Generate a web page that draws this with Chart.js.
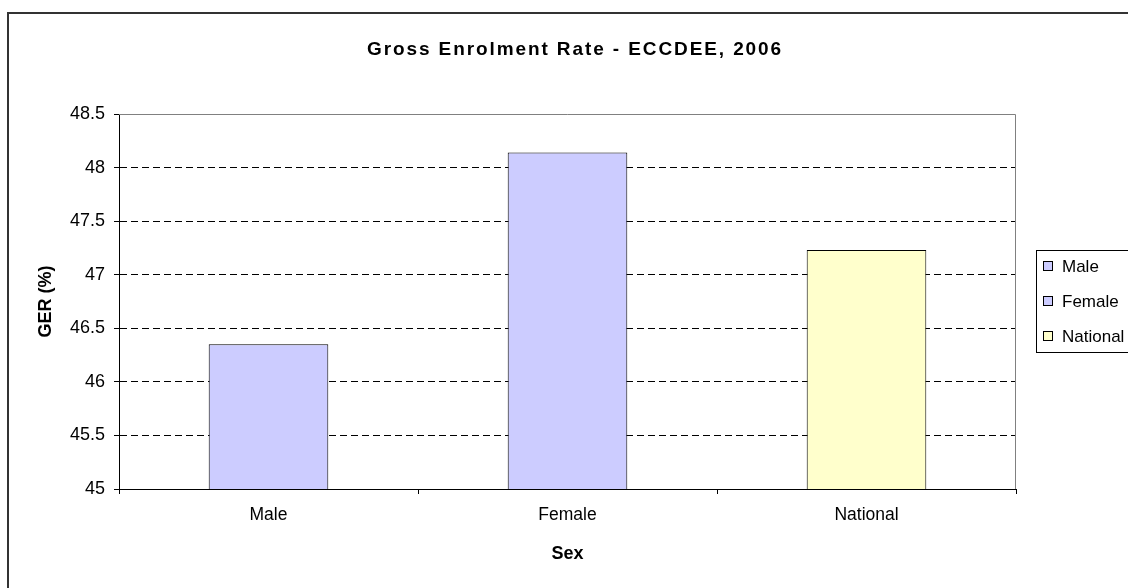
<!DOCTYPE html>
<html>
<head>
<meta charset="utf-8">
<script src="https://cdn.jsdelivr.net/npm/chart.js@4/dist/chart.umd.min.js"></script>
<style>
  html, body { margin: 0; padding: 0; background: #fff; }
  #wrap { width: 1128px; height: 588px; position: relative; }
</style>
</head>
<body>
<div id="wrap"><canvas id="myChart" width="1128" height="588"></canvas></div>
<script>
// data
var categories = ['Male', 'Female', 'National']
var gerValues = [46.35, 48.14, 47.23]
var barColors = ['#CCCCFF', '#CCCCFF', '#FFFFCC']
var yTicks = [45, 45.5, 46, 46.5, 47, 47.5, 48, 48.5]
var chartTitle = 'Gross Enrolment Rate - ECCDEE, 2006'

var fontFam = '"Liberation Sans", Arial, sans-serif'

// outer frame, title, plot border and legend box
const framePlugin = {
  id: 'frame',
  beforeDraw(chart) {
    const c = chart.ctx
    c.save()
    c.fillStyle = '#fff'
    c.fillRect(0, 0, chart.width, chart.height)
    c.strokeStyle = '#333'
    c.lineWidth = 2
    c.strokeRect(8, 13, 1200, 700)
    // title
    c.fillStyle = '#000'
    c.font = 'bold 19px ' + fontFam
    c.letterSpacing = '1.9px'
    c.textAlign = 'center'
    c.textBaseline = 'middle'
    c.fillText(chartTitle, 575, 50)
    c.restore()
  },
  afterDatasetsDraw(chart) {
    const c = chart.ctx
    const a = chart.chartArea
    c.save()
    c.strokeStyle = '#808080'
    c.lineWidth = 1
    c.beginPath()
    c.moveTo(a.left, a.top + 0.5)
    c.lineTo(a.right - 0.5, a.top + 0.5)
    c.lineTo(a.right - 0.5, a.bottom)
    c.stroke()
    // legend
    const lx = 1036, ly = 250
    c.strokeStyle = '#000'
    c.strokeRect(lx + 0.5, ly + 0.5, 200, 102)
    c.font = '17px ' + fontFam
    c.textBaseline = 'middle'
    categories.forEach(function (name, i) {
      const y = ly + 16 + i * 35
      c.fillStyle = barColors[i]
      c.fillRect(lx + 7, y - 5, 10, 10)
      c.strokeStyle = '#000'
      c.strokeRect(lx + 7.5, y - 4.5, 9, 9)
      c.fillStyle = '#000'
      c.fillText(name, lx + 26, y + 1)
    })
    c.restore()
  }
}

const ctx = document.getElementById('myChart').getContext('2d')
const myChart = new Chart(ctx, {
  type: 'bar',
  data: {
    labels: categories,
    datasets: [{
      label: 'GER (%)',
      data: gerValues,
      backgroundColor: barColors,
      borderColor: '#000',
      borderWidth: 1,
      borderSkipped: false,
      barPercentage: 0.4,
      categoryPercentage: 1
    }]
  },
  options: {
    responsive: false,
    animation: false,
    devicePixelRatio: 1,
    layout: { padding: { left: 0, right: 112, top: 114, bottom: 0 } },
    plugins: {
      legend: { display: false },
      tooltip: { enabled: false },
      title: { display: false }
    },
    scales: {
      x: {
        afterFit: function (s) { s.height = 99 },
        grid: { display: true, drawOnChartArea: false, drawTicks: true, tickLength: 5, color: '#000', offset: true },
        border: { display: true, color: '#000', width: 1 },
        ticks: { color: '#000', font: { family: fontFam, size: 17.5 }, padding: 11 },
        title: {
          display: true, text: 'Sex', color: '#000',
          font: { family: fontFam, size: 18, weight: 'bold' },
          padding: { top: 0, bottom: 23 }
        }
      },
      y: {
        min: 45,
        max: 48.5,
        afterFit: function (s) { s.width = 119 },
        afterBuildTicks: function (s) { s.ticks = yTicks.map(function (v) { return { value: v } }) },
        grid: {
          color: function (c) { return (c.tick && (c.tick.value === 45 || c.tick.value === 48.5)) ? 'rgba(0,0,0,0)' : '#000' },
          tickColor: '#000',
          tickLength: 5
        },
        border: { display: true, color: '#000', width: 1, dash: [7, 4] },
        ticks: {
          color: '#000',
          font: { family: fontFam, size: 18 },
          padding: 9,
          callback: function (v) { return String(v) }
        },
        title: {
          display: true, text: 'GER (%)', color: '#000',
          font: { family: fontFam, size: 18, weight: 'bold' },
          padding: { top: 35, bottom: 0 }
        }
      }
    }
  },
  plugins: [framePlugin]
})
</script>
</body>
</html>
